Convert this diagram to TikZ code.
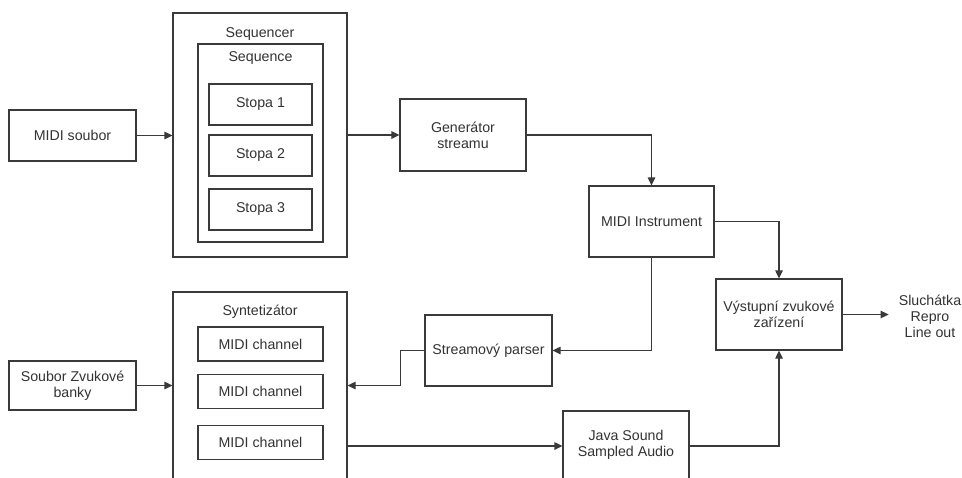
\documentclass[tikz,border=0pt]{standalone}
\usepackage{fontspec}
\setmainfont{Liberation Sans}
\usetikzlibrary{arrows.meta,calc}
\definecolor{ln}{HTML}{3A3A3A}
\definecolor{tx}{HTML}{333333}
\begin{document}
\begin{tikzpicture}[x=1pt,y=-1pt,
  font=\fontsize{14.2}{16}\selectfont,
  box/.style={draw=ln,line width=1.2pt,rectangle,inner sep=0pt,align=center,text=tx},
  lbl/.style={inner sep=0pt,align=center,text=tx},
  conn/.style={draw=ln,line width=1.2pt,-{Triangle[length=8pt,width=7.5pt]}}]
\useasboundingbox (0,0) rectangle (962,477);
\fill[white] (0,0) rectangle (962,477);
\clip (0,0) rectangle (962,477);
% top group
\node[box,minimum width=127pt,minimum height=51pt] (midi) at (72.5,135.5) {MIDI soubor};
\node[box,minimum width=174pt,minimum height=244pt] (seqr) at (260,135) {};
\node[lbl] (seqrl) at (260,34) {Sequencer};
\node[box,minimum width=125pt,minimum height=198pt] (seq) at (260.5,143) {};
\node[lbl] (seql) at (260.5,58) {Sequence};
\node[box,minimum width=103pt,minimum height=41pt] (s1) at (260.5,104.5) {Stopa 1};
\node[box,minimum width=103pt,minimum height=41pt] (s2) at (260.5,155.5) {Stopa 2};
\node[box,minimum width=103pt,minimum height=41pt] (s3) at (260.5,209.5) {Stopa 3};
\node[box,minimum width=126pt,minimum height=72pt] (gen) at (463,135) {Generátor\\streamu};
\node[box,minimum width=125pt,minimum height=71pt] (inst) at (651.5,221.5) {MIDI Instrument};
\node[box,minimum width=126pt,minimum height=71pt] (vyst) at (779,314.5) {Výstupní zvukové\\zařízení};
\node[lbl] (out) at (930,316) {Sluchátka\\Repro\\Line out};
% bottom group
\node[box,minimum width=127pt,minimum height=71pt] (pars) at (488.5,350.5) {Streamový parser};
\node[box,minimum width=174pt,minimum height=228pt] (synt) at (260,406) {};
\node[lbl] (syntl) at (260,312) {Syntetizátor};
\node[box,minimum width=125pt,minimum height=34pt] (c1) at (260.5,344) {MIDI channel};
\node[box,minimum width=125pt,minimum height=34pt] (c2) at (260.5,391.5) {MIDI channel};
\node[box,minimum width=125pt,minimum height=34pt] (c3) at (260.5,442.5) {MIDI channel};
\node[box,minimum width=127pt,minimum height=49pt] (bank) at (72.5,385.5) {Soubor Zvukové\\banky};
\node[box,minimum width=126pt,minimum height=118pt] (java) at (626,470) {};
\node[lbl] (javal) at (626,445) {Java Sound\\Sampled Audio};
\coordinate (sy) at (0,446);
% connectors
\draw[conn] (midi.east) -- (midi.east -| seqr.west);
\draw[conn] (seqr.east) -- (seqr.east -| gen.west);
\draw[conn] (gen.east) -| (inst.north);
\draw[conn] (inst.east) -| (vyst.north);
\draw[conn] (inst.south) |- (pars.east);
\draw[conn] (pars.west) -- ++(-24,0) |- (synt.east |- bank.east);
\draw[conn] (bank.east) -- (bank.east -| synt.west);
\draw[conn] (synt.east |- sy) -- (java.west |- sy);
\draw[conn] (java.east |- sy) -| (vyst.south);
\draw[conn,shorten >=10pt] (vyst.east) -- (vyst.east -| out.west);
\end{tikzpicture}
\end{document}
